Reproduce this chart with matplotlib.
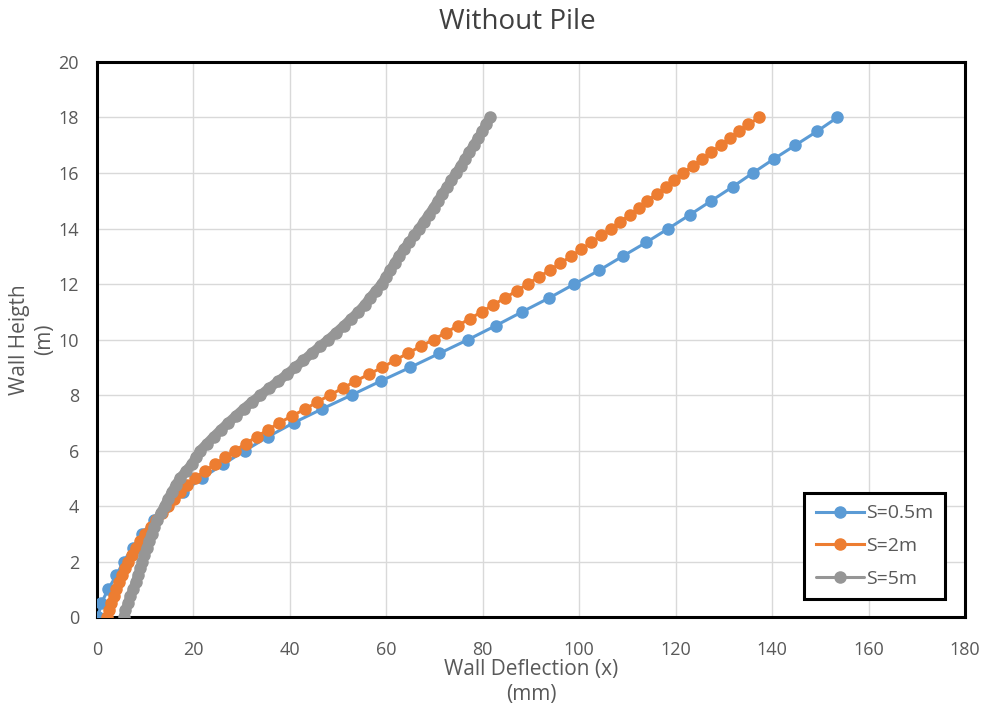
import matplotlib.pyplot as plt
import numpy as np

# wall height (m) for each series
h_05 = np.arange(0, 18.01, 0.5)
h_2 = np.arange(0, 18.01, 0.25)
h_5 = np.arange(0, 18.01, 0.25)

# wall deflection (mm)
s_05 = [0.2, 0.9, 2.3, 4.0, 5.5, 7.4, 9.3, 11.8, 14.6, 17.8, 21.7, 26.1, 30.7,
        35.5, 40.8, 46.7, 52.8, 58.8, 65.0, 71.0, 77.0, 82.7, 88.2, 93.8, 99.0,
        104.2, 109.0, 113.9, 118.5, 123.0, 127.4, 131.8, 136.0, 140.3, 144.8,
        149.3, 153.5]

s_2 = [2.0, 2.5, 3.0, 3.5, 4.0, 4.6, 5.2, 5.8, 6.5, 7.2, 8.0, 9.0, 10.0, 11.1,
       12.2, 13.4, 14.7, 15.9, 17.2, 18.6, 20.3, 22.3, 24.4, 26.5, 28.6, 30.9,
       33.1, 35.5, 37.8, 40.5, 43.2, 45.7, 48.3, 51.0, 53.6, 56.4, 59.2, 61.8,
       64.4, 67.1, 69.8, 72.4, 74.8, 77.3, 79.8, 82.2, 84.6, 87.0, 89.3, 91.6,
       93.9, 96.1, 98.3, 100.4, 102.5, 104.6, 106.5, 108.5, 110.6, 112.4, 114.1,
       116.1, 117.9, 119.6, 121.5, 123.6, 125.4, 127.4, 129.3, 131.2, 133.1,
       135.1, 137.3]

s_5 = [5.5, 5.9, 6.4, 6.9, 7.5, 8.0, 8.5, 9.0, 9.4, 9.8, 10.3, 10.8, 11.3, 11.9,
       12.5, 13.2, 14.0, 14.7, 15.5, 16.3, 17.2, 18.4, 19.6, 20.5, 21.4, 22.8,
       24.2, 25.7, 27.2, 28.8, 30.4, 32.1, 33.9, 35.7, 37.6, 39.4, 41.1, 42.8,
       44.5, 46.2, 48.0, 49.6, 51.2, 52.7, 54.2, 55.5, 56.6, 57.8, 59.0, 59.9,
       60.8, 61.7, 62.6, 63.6, 64.7, 65.8, 66.8, 67.8, 68.8, 69.8, 70.7, 71.6,
       72.6, 73.5, 74.5, 75.4, 76.3, 77.2, 78.1, 79.0, 79.9, 80.7, 81.5]

plt.rcParams['font.family'] = ['Open Sans', 'DejaVu Sans']
txt = '#595959'

fig = plt.figure(figsize=(9.82, 7.11), dpi=100)
ax = fig.add_axes([0.0988, 0.1322, 0.8839, 0.7806])

ax.plot(s_05, h_05, '-o', color='#5b9bd5', lw=2.2, ms=8, label='S=0.5m', zorder=3)
ax.plot(s_2, h_2, '-o', color='#ed7d31', lw=2.2, ms=8, label='S=2m', zorder=4)
ax.plot(s_5, h_5, '-o', color='#969696', lw=7, ms=8, label='S=5m', zorder=5,
        solid_capstyle='round')

ax.set_xlim(0, 180)
ax.set_ylim(0, 20)
ax.set_xticks(np.arange(0, 181, 20))
ax.set_yticks(np.arange(0, 21, 2))
ax.grid(True, color='#d9d9d9', lw=1)
ax.set_axisbelow(True)
ax.tick_params(length=0, labelsize=13, labelcolor=txt)
ax.tick_params(axis='x', pad=17)
ax.tick_params(axis='y', pad=13)
for sp in ax.spines.values():
    sp.set_linewidth(2.2)
    sp.set_color('black')

ax.set_xlabel('Wall Deflection (x)\n(mm)', fontsize=15, color=txt, labelpad=0, linespacing=1.3)
ax.set_ylabel('Wall Heigth\n(m)', fontsize=15, color=txt, labelpad=2, linespacing=1.3)
fig.text(0.527, 0.969, 'Without Pile', fontsize=20, color='#404040',
         ha='center', va='center')

leg = ax.legend(loc='lower right', bbox_to_anchor=(0.977, 0.032), borderaxespad=0,
                fontsize=14, fancybox=False, framealpha=1, borderpad=0.6,
                labelspacing=0.75, handlelength=2.5, handletextpad=0.1)
leg.get_frame().set_edgecolor('black')
leg.get_frame().set_linewidth(2.2)
for t in leg.get_texts():
    t.set_color(txt)
for l in leg.get_lines():
    l.set_linewidth(2.2)

plt.savefig('out.png', dpi=100)
